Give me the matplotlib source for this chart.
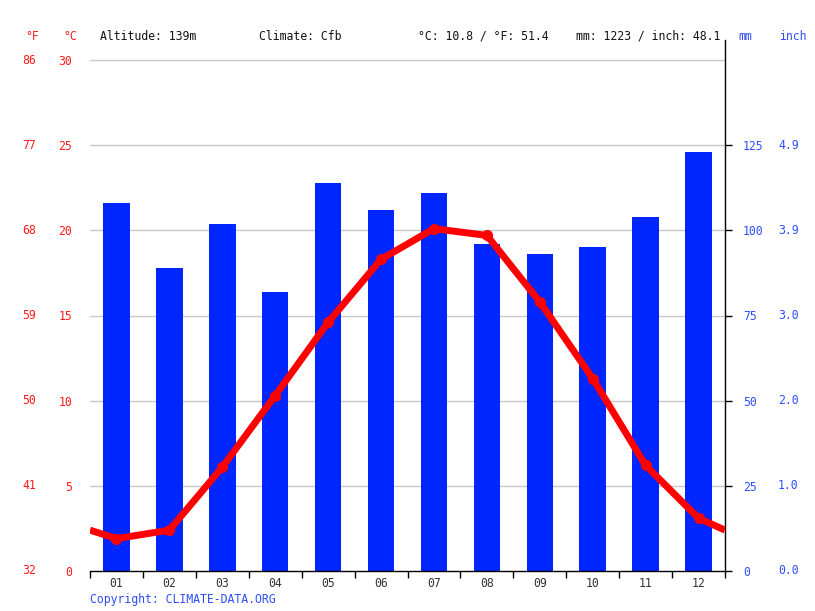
import numpy as np
import matplotlib
matplotlib.use("Agg")
import matplotlib.pyplot as plt

# climate data
months = ["01", "02", "03", "04", "05", "06", "07", "08", "09", "10", "11", "12"]
precip_mm = [108, 89, 102, 82, 114, 106, 111, 96, 93, 95, 104, 123]
temp_c = [1.9, 2.4, 6.1, 10.3, 14.6, 18.3, 20.1, 19.7, 15.8, 11.3, 6.2, 3.1]
temp_edge_left = 2.4    # where the line leaves the left edge
temp_edge_right = 2.4   # where the line leaves the right edge

c_ticks = [0, 5, 10, 15, 20, 25, 30]
f_labels = ["32", "41", "50", "59", "68", "77", "86"]
mm_ticks = [0, 25, 50, 75, 100, 125]
inch_labels = ["0.0", "1.0", "2.0", "3.0", "3.9", "4.9"]

header = ["Altitude: 139m", "Climate: Cfb", "°C: 10.8 / °F: 51.4", "mm: 1223 / inch: 48.1"]

W, H = 815, 611
RED = "#ff1a1a"
BLUE = "#2f4dff"
BAR = "#0026ff"
FONT = "DejaVu Sans Mono"
FS = 8.3

plt.rcParams["font.family"] = FONT

fig = plt.figure(figsize=(W / 100, H / 100), dpi=100)
# axes from x=90..725, y=40..571 (top gridline at 30 C sits at y=60)
ax = fig.add_axes([90 / W, 1 - 571 / H, (725 - 90) / W, (571 - 40) / H])
ax2 = ax.twinx()

top_c = 30 * (571 - 40) / (571 - 60)
ax.set_ylim(0, top_c)
ax2.set_ylim(0, top_c * 5)
ax.set_xlim(0.5, 12.5)

x = np.arange(1, 13)

# bars on the mm axis
ax2.bar(x, precip_mm, width=0.5, color=BAR, zorder=2)

# temperature line on the C axis
lx = np.concatenate([[0.5], x, [12.5]])
ly = np.concatenate([[temp_edge_left], temp_c, [temp_edge_right]])
ax2.set_zorder(1)
ax.set_zorder(2)
ax.patch.set_visible(False)
ax.plot(lx, ly, color="#ff0000", lw=5, solid_capstyle="butt", zorder=3)
ax.plot(x, temp_c, "o", color="#ff0000", ms=7, zorder=4)

# grid lines
for c in c_ticks[1:]:
    ax2.axhline(c * 5, color="#c8c8c8", lw=1, zorder=0)

# spines
for a in (ax, ax2):
    for s in a.spines.values():
        s.set_visible(False)
ax2.spines["right"].set_visible(True)
ax2.spines["right"].set_color("black")
ax2.spines["right"].set_linewidth(1)
ax.spines["bottom"].set_visible(True)
ax.spines["bottom"].set_color("black")
ax.spines["bottom"].set_linewidth(1)

# left C ticks
ax.set_yticks(c_ticks)
ax.set_yticklabels([str(c) for c in c_ticks], color=RED, fontsize=FS)
ax.tick_params(axis="y", length=0, pad=13)

# F column
for c, lab in zip(c_ticks, f_labels):
    ax.text(-54 / (725 - 90), c, lab, transform=ax.get_yaxis_transform(),
            color=RED, fontsize=FS, ha="right", va="center")

# right mm ticks
ax2.set_yticks(mm_ticks)
ax2.set_yticklabels([str(m) for m in mm_ticks], color=BLUE, fontsize=FS)
ax2.tick_params(axis="y", length=5, width=1, color="black", pad=8)
for m, lab in zip(mm_ticks, inch_labels):
    ax2.text(1 + 53 / (725 - 90), m, lab, transform=ax2.get_yaxis_transform(),
             color=BLUE, fontsize=FS, ha="left", va="center")

# x axis: labels at month centres, marks at boundaries
ax.set_xticks(x)
ax.set_xticklabels(months, fontsize=FS, color="#333333")
ax.tick_params(axis="x", which="major", length=0, pad=4)
ax.set_xticks(np.arange(0.5, 13, 1), minor=True)
ax.tick_params(axis="x", which="minor", length=5, width=1, color="black")

# headers
fig.text(25 / W, 1 - 36 / H, "°F", color=RED, fontsize=FS, va="center")
fig.text(63 / W, 1 - 36 / H, "°C", color=RED, fontsize=FS, va="center")
for xp, t in zip([100, 259, 418, 576], header):
    fig.text(xp / W, 1 - 36 / H, t, color="#111111", fontsize=FS, va="center")
fig.text(738 / W, 1 - 36 / H, "mm", color=BLUE, fontsize=FS, va="center")
fig.text(779 / W, 1 - 36 / H, "inch", color=BLUE, fontsize=FS, va="center")

fig.text(90 / W, 1 - 599 / H, "Copyright: CLIMATE-DATA.ORG", color=BLUE,
         fontsize=FS, va="center")

fig.savefig("out.png", dpi=100)
